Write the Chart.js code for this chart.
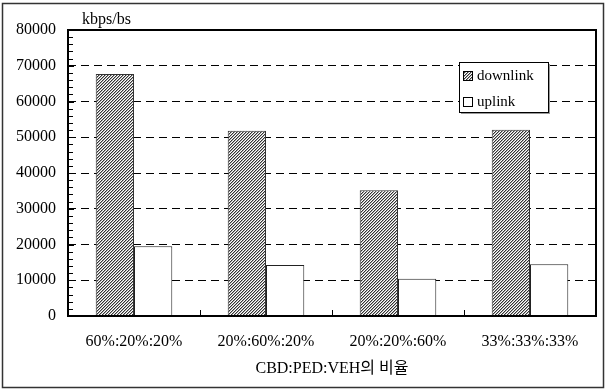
<!DOCTYPE html>
<html>
<head>
<meta charset="utf-8">
<script src="https://cdn.jsdelivr.net/npm/chart.js@4.4.1/dist/chart.umd.min.js"></script>
<style>
  html, body { margin: 0; padding: 0; background: #fff; }
  #wrap { position: relative; width: 606px; height: 390px; }
</style>
</head>
<body>
<div id="wrap"><canvas id="c" width="606" height="390"></canvas></div>
<script>
// chart data
const categories = ['60%:20%:20%', '20%:60%:20%', '20%:20%:60%', '33%:33%:33%'];
const downlink = [67700, 51800, 35200, 52100];
const uplink = [19500, 14300, 10400, 14500];
const seriesNames = ['downlink', 'uplink'];
const yUnit = 'kbps/bs';
const xTitle = 'CBD:PED:VEH의 비율';
const yMax = 80000;
const yStep = 10000;
const yMinorStep = 2000;

const SERIF = '"Liberation Serif", "Times New Roman", "Noto Sans CJK KR", serif';

// dense hatched fill like the original ("////")
function makeHatch() {
  const p = document.createElement('canvas');
  p.width = 3; p.height = 3;
  const g = p.getContext('2d');
  g.fillStyle = '#fff';
  g.fillRect(0, 0, 3, 3);
  g.fillStyle = '#333';
  g.fillRect(2, 0, 1, 1);
  g.fillRect(1, 1, 1, 1);
  g.fillRect(0, 2, 1, 1);
  g.fillStyle = '#aaa';
  g.fillRect(0, 0, 1, 1);
  g.fillRect(2, 1, 1, 1);
  g.fillRect(1, 2, 1, 1);
  return g.createPattern(p, 'repeat');
}
const ctx = document.getElementById('c').getContext('2d');
const hatch = makeHatch();

// frame, plot border, inner ticks, unit label and legend
const decor = {
  id: 'decor',
  afterDraw(chart) {
    const c = chart.ctx;
    const a = chart.chartArea;
    const ys = chart.scales.y, xs = chart.scales.x;
    c.save();
    // outer frame
    c.strokeStyle = '#333';
    c.lineWidth = 1.5;
    c.strokeRect(2.5, 3.5, 601, 384);

    // plot border
    c.strokeStyle = '#000';
    c.lineWidth = 2;
    c.strokeRect(a.left, a.top, a.right - a.left, a.bottom - a.top);

    // inner ticks on y axis
    c.lineWidth = 1;
    c.beginPath();
    for (let v = 0; v <= yMax; v += yMinorStep) {
      const y = Math.round(ys.getPixelForValue(v)) + 0.5;
      const len = v % yStep === 0 ? 6 : 5;
      c.moveTo(a.left, y);
      c.lineTo(a.left + len, y);
    }
    // inner ticks on x axis, between categories
    for (let i = 0; i < categories.length - 1; i++) {
      const x = Math.round((xs.getPixelForTick(i) + xs.getPixelForTick(i + 1)) / 2) + 0.5;
      c.moveTo(x, a.bottom);
      c.lineTo(x, a.bottom - 6);
    }
    c.stroke();

    // unit label
    c.fillStyle = '#000';
    c.font = '16px ' + SERIF;
    c.textBaseline = 'middle';
    c.textAlign = 'left';
    c.fillText(yUnit, 82, 20);

    // legend
    const lx = 459, ly = 62, lw = 89, lh = 50;
    c.fillStyle = '#999';
    c.fillRect(lx + 2, ly + 2, lw, lh);
    c.fillStyle = '#fff';
    c.fillRect(lx, ly, lw, lh);
    c.strokeStyle = '#000';
    c.lineWidth = 1;
    c.strokeRect(lx + 0.5, ly + 0.5, lw, lh);
    const fills = [hatch, '#fff'];
    chart.data.datasets.forEach((ds, i) => {
      const cy = ly + 14 + i * 26;
      c.fillStyle = fills[i];
      c.fillRect(463, cy - 5, 10, 10);
      c.strokeStyle = '#000';
      c.strokeRect(463.5, cy - 4.5, 9, 9);
      c.fillStyle = '#000';
      c.font = '15px ' + SERIF;
      c.fillText(ds.label, 477, cy);
    });
    c.restore();
  }
};

new Chart(ctx, {
  type: 'bar',
  data: {
    labels: categories,
    datasets: [
      {
        label: seriesNames[0],
        data: downlink,
        backgroundColor: hatch,
        borderColor: '#333',
        borderWidth: 1,
        categoryPercentage: 0.58,
        barPercentage: 1.0,
      },
      {
        label: seriesNames[1],
        data: uplink,
        backgroundColor: '#fff',
        borderColor: '#222',
        borderWidth: 1,
        categoryPercentage: 0.58,
        barPercentage: 1.0,
      },
    ],
  },
  options: {
    responsive: false,
    animation: false,
    devicePixelRatio: 1,
    layout: { padding: { top: 30, right: 10, left: 0, bottom: 0 } },
    plugins: {
      legend: { display: false },
      tooltip: { enabled: false },
    },
    scales: {
      x: {
        grid: { display: false, drawTicks: false },
        border: { display: false },
        ticks: { color: '#000', font: { family: SERIF, size: 16 }, padding: 16, maxRotation: 0 },
        title: {
          display: true,
          text: xTitle,
          color: '#000',
          font: { family: SERIF, size: 16 },
          padding: { top: 8, bottom: 12 },
        },
        afterFit: s => { s.height = 74; },
      },
      y: {
        min: 0,
        max: yMax,
        ticks: {
          stepSize: yStep,
          color: '#000',
          font: { family: SERIF, size: 16 },
          padding: 12,
          callback: v => String(v),
        },
        grid: {
          drawTicks: false,
          color: c => (c.tick.value === 0 || c.tick.value === yMax) ? 'rgba(0,0,0,0)' : '#000',
          lineWidth: 1,
        },
        border: { display: false, dash: [8, 5] },
        afterFit: s => { s.width = 68; },
      },
    },
  },
  plugins: [decor],
});
</script>
</body>
</html>
